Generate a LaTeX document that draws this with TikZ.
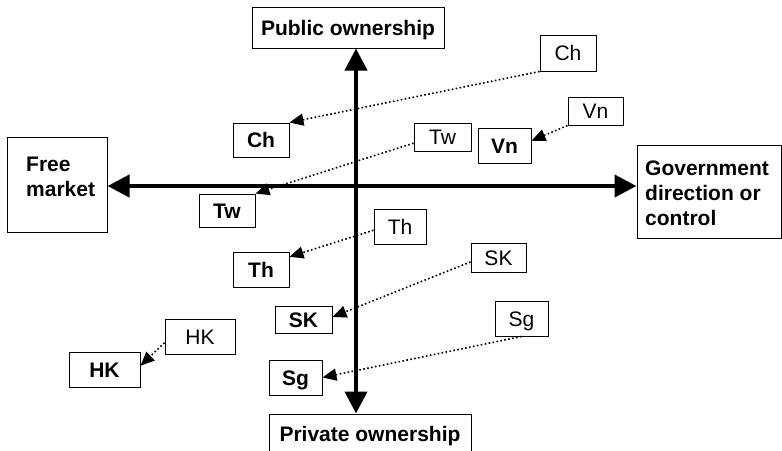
\documentclass[tikz,border=0pt]{standalone}
\usepackage{fontspec}
\setmainfont{Liberation Sans}
\usetikzlibrary{arrows.meta}
\begin{document}
\begin{tikzpicture}[x=1pt,y=-1pt,
  every node/.style={font=\fontsize{21}{25}\selectfont},
  frame/.style={draw, line width=1pt, inner sep=0pt},
  tag/.style={frame, text height=15pt, text depth=0pt},
  hint/.style={tag},
  actual/.style={tag, font=\fontsize{21}{25}\selectfont\bfseries},
  axisline/.style={line width=4pt, {Triangle[length=22pt,width=22pt]}-{Triangle[length=22pt,width=22pt]}},
  movearrow/.style={line width=1.6pt, dash pattern=on 1.6pt off 2.4pt, -{Triangle[length=14pt,width=12pt]}}]
\useasboundingbox (0,0) rectangle (782,450);

% axis end boxes
\node[actual, minimum width=192pt, minimum height=41pt] (pub) at (348,27.5) {Public ownership};
\node[actual, minimum width=202pt, minimum height=40pt] (priv) at (370,434) {Private ownership};
\node[frame, minimum width=100pt, minimum height=95pt] (free) at (57,184.5) {};
\node[anchor=west, align=left, inner sep=0pt, font=\fontsize{21}{25}\selectfont\bfseries] (freetext) at (26,177) {Free\\market};
\node[frame, minimum width=144pt, minimum height=93pt] (gov) at (709,191.5) {};
\node[anchor=west, align=left, inner sep=0pt, font=\fontsize{21}{25}\selectfont\bfseries] (govtext) at (645,193.5) {Government\\direction or\\control};

% axes
\coordinate (vx) at (356,0);
\coordinate (hy) at (0,186);
\draw[axisline] (pub.south -| vx) -- (priv.north -| vx);
\draw[axisline] (free.east |- hy) -- (gov.west |- hy);

% starting positions
\node[hint, minimum width=56pt, minimum height=36pt] (chS) at (568,53) {Ch};
\node[hint, minimum width=55pt, minimum height=28pt] (vnS) at (595.5,111) {Vn};
\node[hint, minimum width=57pt, minimum height=28pt] (twS) at (442.5,137) {Tw};
\node[hint, minimum width=52pt, minimum height=35pt] (thS) at (400,226.5) {Th};
\node[hint, minimum width=55pt, minimum height=29pt] (skS) at (498.5,257.5) {SK};
\node[hint, minimum width=53pt, minimum height=35pt] (sgS) at (521.5,318.5) {Sg};
\node[hint, minimum width=70pt, minimum height=35pt] (hkS) at (200,336.5) {HK};

% resulting positions
\node[actual, minimum width=56pt, minimum height=34pt] (chT) at (261,140) {Ch};
\node[actual, minimum width=53pt, minimum height=35pt] (vnT) at (504.5,145.5) {Vn};
\node[actual, minimum width=56pt, minimum height=33pt] (twT) at (227,210.5) {Tw};
\node[actual, minimum width=56pt, minimum height=35pt] (thT) at (261,269.5) {Th};
\node[actual, minimum width=57pt, minimum height=27pt] (skT) at (303.5,319.5) {SK};
\node[actual, minimum width=53pt, minimum height=35pt] (sgT) at (295.5,377.5) {Sg};
\node[actual, minimum width=71pt, minimum height=35pt] (hkT) at (104.5,369.5) {HK};

% movements
\draw[movearrow] (chS.south west) -- (chT.north east);
\draw[movearrow] (vnS.south west) -- (vnT.10);
\draw[movearrow] (twS.192) -- (twT.north east);
\draw[movearrow] (thS.188) -- (thT.24);
\draw[movearrow] (skS.189) -- (skT.5);
\draw[movearrow] (sgS.south) -- (sgT.east);
\draw[movearrow] (hkS.190) -- (hkT.6);
\end{tikzpicture}
\end{document}
